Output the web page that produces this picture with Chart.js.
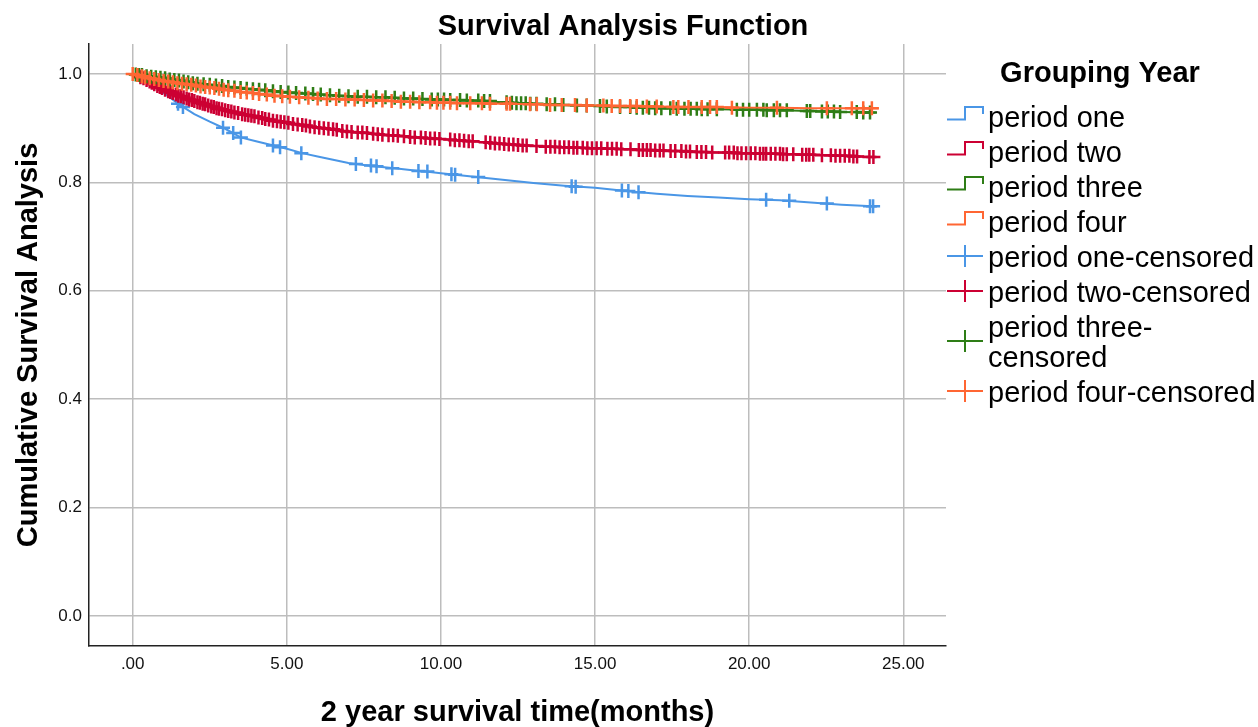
<!DOCTYPE html>
<html>
<head>
<meta charset="utf-8">
<script src="https://cdn.jsdelivr.net/npm/chart.js@4"></script>
<style>
  body { margin: 0; background: #fff; }
  #wrap { width: 1258px; height: 727px; position: relative; }
</style>
</head>
<body>
<div id="wrap"><canvas id="chart"></canvas></div>
<script>
// ## data ##
const xTicks = [0, 5, 10, 15, 20, 25];
const xTickLabels = ['.00', '5.00', '10.00', '15.00', '20.00', '25.00'];
const yTicks = [0, 0.2, 0.4, 0.6, 0.8, 1.0];
const yTickLabels = ['0.0', '0.2', '0.4', '0.6', '0.8', '1.0'];

const groupNames = ['period one', 'period two', 'period three', 'period four'];
const groupColors = ['#4a96e6', '#cc0033', '#2e7d16', '#ff6633'];

// survival curves (time in months, cumulative survival)
const p1Time = [0, 0.25, 0.5, 0.75, 1, 1.25, 1.5, 2, 2.5, 3, 3.5, 4, 4.5, 5, 5.5, 6, 6.5, 7, 7.5, 8, 8.5, 9, 9.5, 10, 11, 12, 13, 14, 15, 16, 17, 18, 19, 20, 21, 22, 23, 24, 24.1];
const p1Surv = [1, 0.993, 0.985, 0.975, 0.965, 0.955, 0.944, 0.926, 0.912, 0.899, 0.883, 0.876, 0.869, 0.862, 0.854, 0.848, 0.842, 0.836, 0.832, 0.829, 0.826, 0.823, 0.820, 0.817, 0.811, 0.805, 0.799, 0.794, 0.790, 0.784, 0.779, 0.775, 0.772, 0.769, 0.767, 0.763, 0.759, 0.756, 0.756];

const p2Time = [0, 0.5, 1, 1.5, 2, 2.5, 3, 3.5, 4, 4.5, 5, 5.5, 6, 7, 8, 9, 10, 11, 12, 13, 14, 15, 16, 17, 18, 19, 20, 21, 22, 23, 24, 24.1];
const p2Surv = [1, 0.988, 0.972, 0.960, 0.950, 0.941, 0.933, 0.927, 0.921, 0.915, 0.910, 0.906, 0.901, 0.894, 0.889, 0.884, 0.880, 0.876, 0.871, 0.867, 0.865, 0.863, 0.861, 0.859, 0.857, 0.855, 0.854, 0.853, 0.851, 0.849, 0.847, 0.847];

const p3Time = [0, 0.5, 1, 2, 3, 4, 5, 6, 7, 8, 9, 10, 11, 12, 13, 14, 15, 16, 17, 18, 19, 20, 21, 22, 23, 24, 24.1];
const p3Surv = [1, 0.996, 0.992, 0.983, 0.977, 0.971, 0.966, 0.962, 0.959, 0.957, 0.955, 0.953, 0.951, 0.948, 0.945, 0.943, 0.941, 0.939, 0.937, 0.936, 0.935, 0.934, 0.933, 0.932, 0.930, 0.929, 0.929];

const p4Time = [0, 0.5, 1, 2, 3, 4, 5, 6, 7, 8, 9, 10, 11, 12, 13, 14, 15, 16, 17, 18, 19, 20, 21, 22, 23, 24, 24.2];
const p4Surv = [1, 0.993, 0.987, 0.979, 0.971, 0.964, 0.958, 0.955, 0.953, 0.951, 0.949, 0.947, 0.946, 0.945, 0.944, 0.943, 0.942, 0.941, 0.940, 0.939, 0.939, 0.938, 0.938, 0.937, 0.937, 0.937, 0.937];

// censored cases [time, survival]
const p1Censored = [[1.47, 0.945], [1.63, 0.939], [2.93, 0.901], [3.26, 0.891], [3.51, 0.883], [4.55, 0.868], [4.78, 0.865],
  [5.47, 0.854], [7.24, 0.834], [7.73, 0.831], [7.91, 0.830], [8.42, 0.826], [9.27, 0.821], [9.56, 0.820], [10.34, 0.815],
  [10.46, 0.814], [11.21, 0.810], [14.24, 0.793], [14.37, 0.792], [15.87, 0.785], [16.08, 0.784], [16.41, 0.782],
  [20.55, 0.768], [21.30, 0.766], [22.52, 0.761], [23.92, 0.756], [24.02, 0.756]];

const p2Censored = [[0.25, 0.994], [0.35, 0.992], [0.45, 0.989], [0.55, 0.986], [0.62, 0.984], [0.7, 0.981], [0.8, 0.978],
  [0.88, 0.976], [0.95, 0.974], [1.05, 0.971], [1.15, 0.968], [1.22, 0.967], [1.3, 0.965], [1.4, 0.962], [1.48, 0.960],
  [1.56, 0.959], [1.65, 0.957], [1.75, 0.955], [1.83, 0.953], [1.92, 0.952], [2.0, 0.950], [2.1, 0.948], [2.18, 0.947],
  [2.27, 0.945], [2.35, 0.944], [2.45, 0.942], [2.55, 0.940], [2.63, 0.939], [2.72, 0.937], [2.8, 0.936], [2.9, 0.935],
  [3.0, 0.933], [3.1, 0.932], [3.2, 0.931], [3.3, 0.929], [3.42, 0.928], [3.55, 0.926], [3.65, 0.925], [3.75, 0.924],
  [3.85, 0.923], [3.95, 0.922], [4.08, 0.920], [4.2, 0.919], [4.3, 0.917], [4.42, 0.916], [4.55, 0.914], [4.68, 0.913],
  [4.8, 0.912], [4.92, 0.911], [5.05, 0.910], [5.2, 0.908], [5.35, 0.907], [5.5, 0.906], [5.62, 0.905], [5.75, 0.903],
  [5.9, 0.902], [6.05, 0.901], [6.2, 0.900], [6.35, 0.899], [6.5, 0.898], [6.62, 0.897], [6.8, 0.895], [6.95, 0.894],
  [7.1, 0.893], [7.3, 0.892], [7.45, 0.892], [7.6, 0.891], [7.8, 0.890], [7.95, 0.889], [8.1, 0.888], [8.3, 0.887],
  [8.45, 0.887], [8.6, 0.886], [8.8, 0.885], [9.0, 0.884], [9.15, 0.883], [9.35, 0.883], [9.5, 0.882], [9.65, 0.881],
  [9.8, 0.881], [9.95, 0.880], [10.3, 0.879], [10.45, 0.878], [10.6, 0.878], [10.75, 0.877], [10.9, 0.876], [11.03, 0.876],
  [11.45, 0.874], [11.6, 0.873], [11.75, 0.872], [11.9, 0.872], [12.05, 0.871], [12.2, 0.870], [12.35, 0.870], [12.5, 0.869],
  [12.65, 0.868], [12.78, 0.868], [13.1, 0.867], [13.4, 0.866], [13.55, 0.866], [13.7, 0.866], [13.85, 0.865], [14.0, 0.865],
  [14.15, 0.865], [14.3, 0.864], [14.42, 0.864], [14.6, 0.864], [14.75, 0.863], [14.9, 0.863], [15.05, 0.863], [15.2, 0.863],
  [15.4, 0.862], [15.55, 0.862], [15.7, 0.862], [15.85, 0.861], [16.15, 0.861], [16.42, 0.860], [16.55, 0.860], [16.68, 0.860],
  [16.8, 0.860], [16.95, 0.859], [17.1, 0.859], [17.22, 0.859], [17.45, 0.858], [17.6, 0.858], [17.8, 0.858], [17.95, 0.857],
  [18.08, 0.857], [18.3, 0.856], [18.45, 0.856], [18.6, 0.856], [18.8, 0.855], [19.22, 0.855], [19.35, 0.855], [19.5, 0.855],
  [19.62, 0.854], [19.75, 0.854], [19.9, 0.854], [20.05, 0.854], [20.2, 0.854], [20.35, 0.853], [20.46, 0.853], [20.55, 0.853],
  [20.7, 0.853], [20.85, 0.853], [21.0, 0.853], [21.1, 0.852], [21.22, 0.852], [21.43, 0.852], [21.72, 0.851], [21.85, 0.851],
  [21.95, 0.851], [22.08, 0.851], [22.36, 0.850], [22.65, 0.850], [22.8, 0.849], [22.95, 0.849], [23.1, 0.849], [23.25, 0.849],
  [23.38, 0.848], [23.5, 0.848], [23.9, 0.847], [24.03, 0.847]];

const p3Censored = [[0.1, 0.999], [0.2, 0.998], [0.3, 0.998], [0.45, 0.996], [0.6, 0.995], [0.75, 0.994], [0.9, 0.993],
  [1.05, 0.992], [1.2, 0.990], [1.35, 0.989], [1.5, 0.988], [1.65, 0.986], [1.8, 0.985], [1.95, 0.983], [2.1, 0.982],
  [2.3, 0.981], [2.5, 0.980], [2.7, 0.979], [2.9, 0.978], [3.1, 0.976], [3.3, 0.975], [3.5, 0.974], [3.7, 0.973],
  [3.9, 0.972], [4.1, 0.971], [4.3, 0.970], [4.55, 0.968], [4.8, 0.967], [5.05, 0.966], [5.3, 0.965], [5.6, 0.964],
  [5.85, 0.963], [6.1, 0.962], [6.4, 0.961], [6.7, 0.960], [7.0, 0.959], [7.3, 0.958], [7.6, 0.958], [7.9, 0.957],
  [8.2, 0.957], [8.5, 0.956], [8.8, 0.955], [9.1, 0.955], [9.4, 0.954], [9.7, 0.953], [9.9, 0.953], [10.1, 0.953],
  [10.3, 0.952], [10.62, 0.952], [10.84, 0.951], [11.21, 0.951], [11.4, 0.950], [11.59, 0.950], [12.13, 0.948], [12.3, 0.947],
  [12.45, 0.946], [12.6, 0.946], [12.75, 0.946], [12.9, 0.945], [13.1, 0.945], [13.43, 0.944], [13.7, 0.944], [13.97, 0.943],
  [14.41, 0.942], [14.73, 0.942], [15.16, 0.941], [15.38, 0.940], [15.81, 0.939], [16.14, 0.939], [16.35, 0.938], [16.55, 0.938],
  [16.75, 0.938], [16.95, 0.937], [17.15, 0.937], [17.44, 0.937], [17.65, 0.936], [17.9, 0.936], [18.1, 0.936], [18.3, 0.936],
  [18.46, 0.935], [18.65, 0.935], [18.95, 0.935], [19.6, 0.934], [19.8, 0.934], [20.0, 0.934], [20.25, 0.934], [20.46, 0.934],
  [20.57, 0.933], [20.8, 0.933], [21.0, 0.933], [21.22, 0.933], [21.87, 0.932], [21.98, 0.932], [22.36, 0.931], [22.55, 0.931],
  [22.75, 0.931], [22.95, 0.930], [23.49, 0.930], [23.7, 0.929], [23.92, 0.929]];

const p4Censored = [[0.0, 1.0], [0.15, 0.998], [0.3, 0.996], [0.4, 0.994], [0.55, 0.992], [0.7, 0.991], [0.85, 0.989],
  [1.0, 0.987], [1.15, 0.986], [1.3, 0.985], [1.45, 0.983], [1.6, 0.982], [1.75, 0.981], [1.9, 0.980], [2.05, 0.979],
  [2.2, 0.977], [2.35, 0.976], [2.5, 0.975], [2.65, 0.974], [2.8, 0.973], [2.95, 0.971], [3.1, 0.970], [3.3, 0.969],
  [3.5, 0.967], [3.7, 0.966], [3.9, 0.965], [4.1, 0.963], [4.35, 0.962], [4.6, 0.960], [4.85, 0.959], [5.1, 0.958],
  [5.4, 0.957], [5.7, 0.956], [6.0, 0.955], [6.3, 0.954], [6.6, 0.954], [6.9, 0.953], [7.2, 0.953], [7.5, 0.952],
  [7.8, 0.951], [8.1, 0.951], [8.4, 0.950], [8.7, 0.949], [9.0, 0.949], [9.3, 0.948], [9.65, 0.948], [9.87, 0.947],
  [10.08, 0.947], [10.3, 0.947], [10.52, 0.946], [10.95, 0.946], [11.33, 0.946], [11.59, 0.945], [12.13, 0.945], [12.24, 0.945],
  [12.89, 0.944], [13.11, 0.944], [13.54, 0.943], [13.92, 0.943], [14.35, 0.943], [14.73, 0.942], [15.27, 0.942], [15.54, 0.941],
  [15.81, 0.941], [16.14, 0.941], [16.35, 0.941], [16.68, 0.940], [17.0, 0.940], [17.54, 0.939], [17.7, 0.939], [18.03, 0.939],
  [18.46, 0.939], [18.73, 0.939], [18.95, 0.939], [19.44, 0.938], [20.9, 0.938], [22.52, 0.937], [23.33, 0.937], [23.7, 0.937],
  [23.98, 0.937]];

const chartTitle = 'Survival Analysis Function';
const legendTitle = 'Grouping Year';
const legendLabels = ['period one', 'period two', 'period three', 'period four',
  'period one-censored', 'period two-censored', ['period three-', 'censored'], 'period four-censored'];

const FONT = "'Liberation Sans', Arial, sans-serif";

function toPoints(t, s) {
  return t.map((v, i) => ({ x: v, y: s[i] }));
}
function pairPoints(arr) {
  return arr.map(p => ({ x: p[0], y: p[1] }));
}

const curves = [toPoints(p1Time, p1Surv), toPoints(p2Time, p2Surv), toPoints(p3Time, p3Surv), toPoints(p4Time, p4Surv)];
const censored = [pairPoints(p1Censored), pairPoints(p2Censored), pairPoints(p3Censored), pairPoints(p4Censored)];

// lower order is drawn on top; orange over green over red over blue
const drawOrder = [4, 3, 2, 1];
const datasets = [];
curves.forEach((c, i) => {
  datasets.push({
    label: groupNames[i],
    data: c,
    borderColor: groupColors[i],
    borderWidth: 2,
    pointRadius: 0,
    tension: 0,
    fill: false,
    order: drawOrder[i] * 2 + 1
  });
});
censored.forEach((c, i) => {
  datasets.push({
    label: groupNames[i] + '-censored',
    data: c,
    showLine: false,
    pointStyle: 'cross',
    pointRadius: 7,
    pointBorderWidth: 2.5,
    pointBorderColor: groupColors[i],
    pointBackgroundColor: groupColors[i],
    borderColor: groupColors[i],
    order: drawOrder[i] * 2
  });
});

// chart title (centred on the whole picture) and the legend on the right
const legendPlugin = {
  id: 'spssLegend',
  afterDraw(chart) {
    const ctx = chart.ctx;
    ctx.save();
    ctx.fillStyle = '#000';
    ctx.textAlign = 'center';
    ctx.textBaseline = 'alphabetic';
    ctx.font = 'bold 29px ' + FONT;
    ctx.fillText(chartTitle, 623, 35);
    ctx.fillText(legendTitle, 1100, 82);

    ctx.textAlign = 'left';
    ctx.font = '29px ' + FONT;
    let base = 127;
    legendLabels.forEach((lab, i) => {
      const lines = Array.isArray(lab) ? lab : [lab];
      const col = groupColors[i % 4];
      ctx.strokeStyle = col;
      ctx.lineWidth = 2;
      ctx.beginPath();
      if (i < 4) {
        const bot = base - 7.5, top = bot - 12.5;
        ctx.moveTo(947, bot);
        ctx.lineTo(965, bot);
        ctx.lineTo(965, top);
        ctx.lineTo(983, top);
        ctx.lineTo(983, top + 7);
      } else {
        const cy = base + (lines.length - 1) * 15 - 11;
        ctx.moveTo(947, cy);
        ctx.lineTo(983, cy);
        ctx.moveTo(965, cy - 11);
        ctx.lineTo(965, cy + 11);
      }
      ctx.stroke();
      ctx.fillStyle = '#000';
      lines.forEach((ln, k) => ctx.fillText(ln, 988, base + k * 30));
      base += 35 + (lines.length - 1) * 30;
    });
    ctx.restore();
  }
};

new Chart(document.getElementById('chart'), {
  type: 'line',
  data: { datasets: datasets },
  plugins: [legendPlugin],
  options: {
    responsive: true,
    maintainAspectRatio: false,
    animation: false,
    layout: { padding: { left: 0, right: 312, top: 44, bottom: 0 } },
    plugins: {
      legend: { display: false },
      tooltip: { enabled: false },
      title: { display: false }
    },
    scales: {
      x: {
        type: 'linear',
        min: -1.418,
        max: 26.385,
        afterFit: s => { s.height = 81; },
        afterBuildTicks: s => { s.ticks = xTicks.map(v => ({ value: v })); },
        grid: { color: '#bdbdbd', lineWidth: 1.5, drawTicks: false },
        border: { color: '#222', width: 1.5 },
        ticks: {
          color: '#111',
          padding: 8,
          font: { family: FONT, size: 17 },
          callback: (v, i) => xTickLabels[i]
        },
        title: {
          display: true,
          text: '2 year survival time(months)',
          color: '#000',
          font: { family: FONT, size: 29, weight: 'bold', lineHeight: 1.0 },
          padding: { top: 0, bottom: 0 }
        }
      },
      y: {
        type: 'linear',
        min: -0.0554,
        max: 1.0554,
        afterFit: s => { s.width = 89; },
        afterBuildTicks: s => { s.ticks = yTicks.map(v => ({ value: v })); },
        grid: { color: '#bdbdbd', lineWidth: 1.5, drawTicks: false },
        border: { color: '#222', width: 1.5 },
        ticks: {
          color: '#111',
          padding: 7,
          font: { family: FONT, size: 17 },
          callback: (v, i) => yTickLabels[i]
        },
        title: {
          display: true,
          text: 'Cumulative Survival Analysis',
          color: '#000',
          font: { family: FONT, size: 29, weight: 'bold', lineHeight: 1.0 },
          padding: { top: 14.5, bottom: 0 }
        }
      }
    }
  }
});
</script>
</body>
</html>
